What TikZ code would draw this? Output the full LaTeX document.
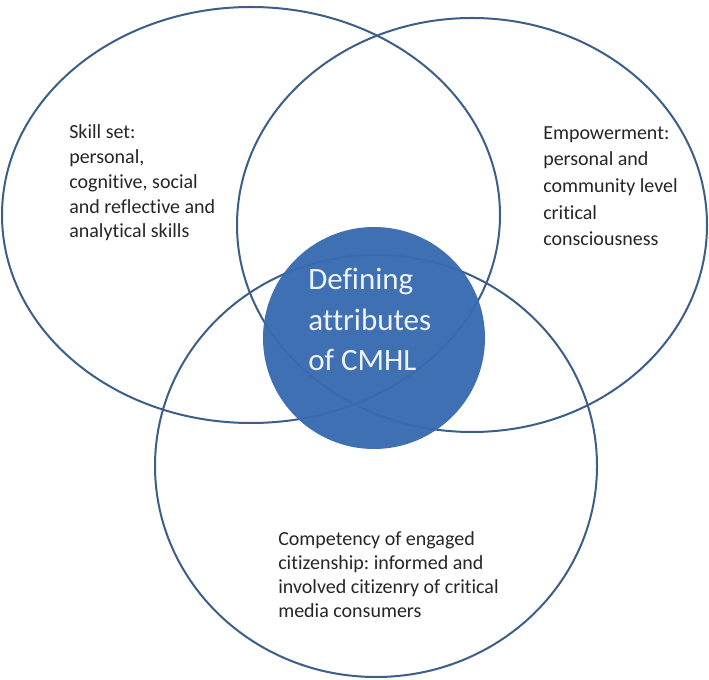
\documentclass[tikz,border=0pt]{standalone}
\usepackage{fontspec}
\setmainfont{Carlito}[Ligatures=NoCommon]
\frenchspacing
\usetikzlibrary{shapes.geometric}
\definecolor{ringcol}{HTML}{3B5F88}
\definecolor{corecol}{HTML}{386BB0}
\definecolor{txtcol}{HTML}{262626}
\definecolor{coretxt}{HTML}{EEF3FA}
\tikzset{
  ring/.style={ellipse, draw=ringcol, line width=1.5pt, inner sep=0pt},
  sidetext/.style={anchor=base west, inner sep=0pt, align=left, text=txtcol},
  core/.style={circle, fill=corecol, fill opacity=0.96, inner sep=0pt, minimum size=166.5pt},
  coretext/.style={anchor=base west, inner sep=0pt, align=left, text=coretxt,
    font=\fontsize{23.25pt}{30pt}\selectfont}
}
\begin{document}
\begin{tikzpicture}[x=0.75pt, y=-0.75pt]
\useasboundingbox (0,0) rectangle (709,680);
\fill[white] (0,0) rectangle (709,680);
\node[ring, minimum width=373.5pt, minimum height=312pt] (skill) at (251,215) {};
\node[ring, minimum width=352.5pt, minimum height=310.5pt] (empower) at (472,225) {};
\node[ring, minimum width=331.5pt, minimum height=316.5pt] (citizen) at (376,466) {};
\node[core] (cmhl) at (374,338) {};
\node[coretext] (cmhltext) at (308,370) {Defining\\attributes\\of CMHL};
\node[sidetext, font=\fontsize{15pt}{18.6pt}\selectfont] (skilltext) at (69,238) {Skill set:\\personal,\\cognitive, social\\and reflective and\\analytical skills};
\node[sidetext, font=\fontsize{15pt}{20pt}\selectfont] (empowertext) at (543,246) {Empowerment:\\personal and\\community level\\critical\\consciousness};
\node[sidetext, font=\fontsize{15pt}{18pt}\selectfont] (citizentext) at (278,617) {Competency of engaged\\citizenship: informed and\\involved citizenry of critical\\media consumers};
\end{tikzpicture}
\end{document}
